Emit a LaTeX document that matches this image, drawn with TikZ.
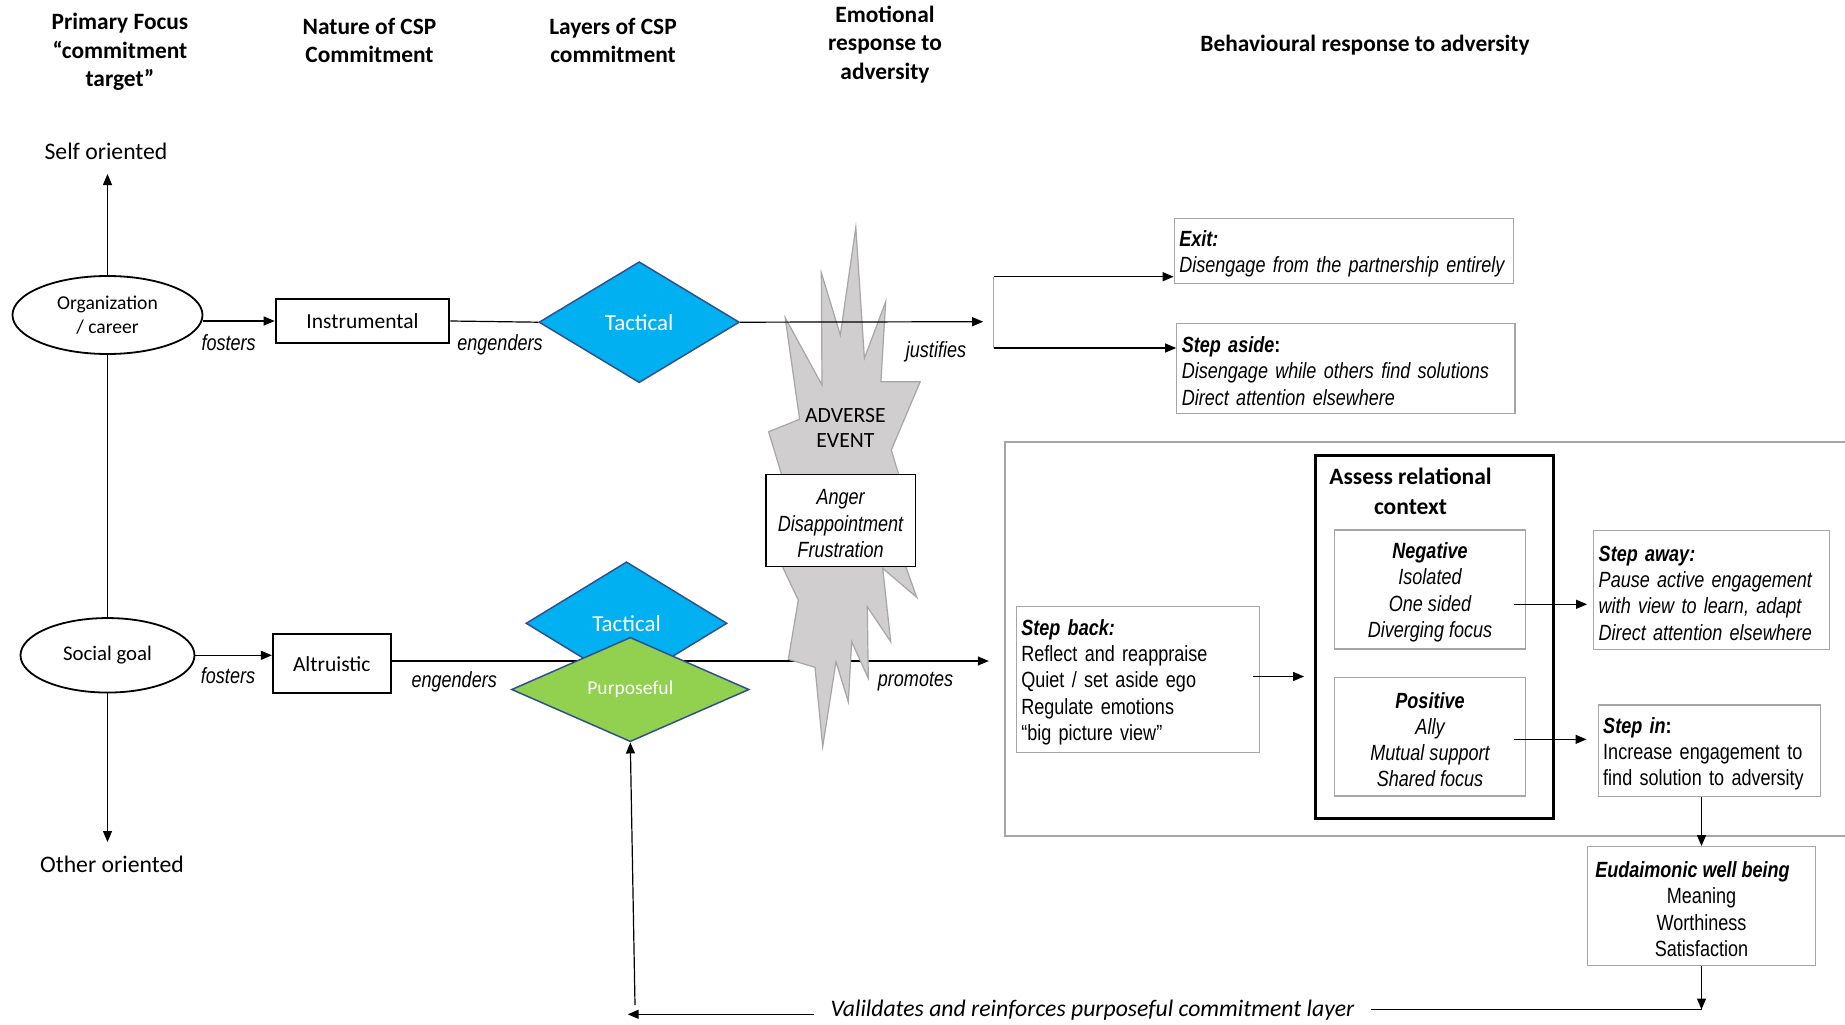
\documentclass[tikz,border=0pt]{standalone}
\usepackage{fontspec}
\usetikzlibrary{shapes.geometric,arrows.meta,calc}
\newfontfamily\calfont{Carlito}
\newfontfamily\narfont{Liberation Sans}[FakeStretch=0.82,WordSpace=0.82]
\newcommand\firstline{\rule{0pt}{21.5pt}}
\protected\def\narspacing{\spaceskip=5pt plus 1pt minus 1pt\relax}
\definecolor{boxgrey}{RGB}{166,166,166}
\definecolor{tacblue}{RGB}{0,176,240}
\definecolor{purgreen}{RGB}{146,208,80}
\definecolor{edgeblue}{RGB}{47,82,143}
\definecolor{burstfill}{RGB}{208,206,206}
\definecolor{burstedge}{RGB}{166,166,166}
\definecolor{linkblue}{RGB}{143,170,220}

\begin{document}
\begin{tikzpicture}[x=1pt,y=-1pt,
  hdr/.style={font=\calfont\bfseries\fontsize{23.4}{28.3}\selectfont, align=center, inner sep=0},
  axislab/.style={font=\calfont\fontsize{23.7}{28}\selectfont, inner sep=0},
  lab/.style={font=\narfont\itshape\fontsize{22}{26.3}\selectfont, inner sep=0},
  body/.style={font=\narfont\fontsize{22}{26.3}\selectfont\narspacing},
  arr/.style={-{Triangle[length=11pt,width=9pt]}, line width=1.2pt},
  conn/.style={line width=1.2pt},
  oval/.style={ellipse, draw, line width=1.8pt, fill=white, inner sep=0, align=center},
  bbox/.style={draw, line width=2pt, fill=white, inner sep=0,
    font=\calfont\fontsize{21.5}{26}\selectfont},
  gem/.style={diamond, draw=edgeblue, line width=1.5pt, inner sep=0, aspect=1.65,
    text=white},
  gbox/.style={draw=boxgrey, line width=1.3pt, fill=white, inner xsep=5pt, inner ysep=0pt,
    body},
  lbox/.style={gbox, align=left},
  cbox/.style={gbox, align=center}]

\useasboundingbox (0,0) rectangle (1845,1025);
\fill[white] (0,0) rectangle (1845,1025);

% column headings
\node[hdr] (hfocus)  at (120,52)    {Primary Focus\\“commitment\\target”};
\node[hdr] (hnature) at (369.5,40.5) {Nature of CSP\\Commitment};
\node[hdr] (hlayers) at (613,40.5)  {Layers of CSP\\commitment};
\node[hdr] (hemot)   at (885,44.5)  {Emotional\\response to\\adversity};
\node[hdr] (hbehav)  at (1365,45.5) {Behavioural response to adversity};

% self / other axis
\node[axislab] (selfo)  at (106,151) {Self oriented};
\node[axislab] (othero) at (112,864) {Other oriented};
\coordinate (selftip)  at (107.5,174);
\coordinate (othertip) at (107.5,842);

\node[oval, minimum width=190pt, minimum height=78pt,
      font=\calfont\fontsize{19.6}{24}\selectfont] (org) at (107.5,315) {Organization\\/ career};
\node[oval, minimum width=174pt, minimum height=74.5pt,
      font=\calfont\fontsize{20.8}{25}\selectfont] (soc) at (107.5,655.3) {Social goal};

\draw[arr] (org.north) -- (selftip);
\draw[conn] (org.south) -- (soc.north);
\draw[arr] (soc.south) -- (othertip);

% nature of commitment
\node[bbox, minimum width=173.6pt, minimum height=44.3pt] (inst) at (362.5,321) {Instrumental};
\node[bbox, minimum width=117.8pt, minimum height=59pt] (alt) at (331.8,663.8) {Altruistic};

\draw[arr] (org.east |- inst.west) -- (inst.west);
\node[lab] (fost1) at (228.6,342.7) {fosters};
\draw[arr] (soc.east) -- (soc.east -| alt.west);
\node[lab] (fost2) at (228,675.5) {fosters};

% lower row: altruistic commitment promotes stepping back
\coordinate (promtip) at (988.8,661);
\draw[arr] (alt.east |- promtip) -- (promtip);
\node[lab] (eng2) at (454.2,681.7) {engenders};
\node[lab] (prom) at (915.5,681.7) {promotes};

\node[gem, fill=tacblue, minimum width=201pt, minimum height=123pt,
      font=\calfont\fontsize{22.9}{26}\selectfont] (tac2) at (626.5,623.3) {Tactical};
\node[gem, fill=purgreen, minimum width=237.6pt, minimum height=104.4pt,
      font=\calfont\fontsize{19.6}{24}\selectfont] (purp) at (630.3,689.5) {Purposeful};

% adverse event burst
\filldraw[fill=burstfill, draw=burstedge, line width=1.2pt, line join=miter]
  (781.7,475) -- (768.6,431.7) -- (799.6,419.3) -- (785.2,317.7) -- (822,385)
  -- (821.3,272.7) -- (840.3,335) -- (855.8,227.3) -- (864.4,358.3) -- (885.7,301.7)
  -- (880.9,381.7) -- (920.2,381.7) -- (891.3,450) -- (898.8,475) -- (906,567.3)
  -- (916.7,597.3) -- (882.7,568.3) -- (890.7,641.7) -- (867.3,606.7) -- (868.3,678.3)
  -- (851.7,641.7) -- (848.3,701.7) -- (836,661.7) -- (822.7,746.7) -- (815,667.3)
  -- (788.3,659.3) -- (798.3,600) -- (782.7,567.3) -- cycle;
\node[font=\calfont\fontsize{21.7}{25}\selectfont, align=center, inner sep=0] (adverse)
  at (845.4,427.5) {ADVERSE\\EVENT};
\node[draw, line width=1.2pt, fill=white, minimum width=149.3pt, minimum height=91.6pt,
      inner sep=0, align=center, font=\narfont\itshape\fontsize{22}{26.3}\selectfont] (emo)
  at (840.6,520.5) {\firstline Anger\\Disappointment\\Frustration};

% upper row: instrumental commitment justifies exit / stepping aside
\node[gem, fill=tacblue, minimum width=200.4pt, minimum height=121pt,
      font=\calfont\fontsize{22.9}{26}\selectfont] (tac1) at (639.2,322.2) {Tactical};
\draw[conn] (inst.east) -- (tac1.west);
\node[lab] (eng1) at (500,345) {engenders};
\coordinate (justip) at (983.2,321.7);
\draw[arr] (tac1.east) -- (justip);
\node[lab] (just) at (936,351.8) {justifies};

\node[lbox, text width=328.9pt, minimum height=65pt] (exit) at (1343.75,250.8)
  {\firstline{\bfseries\itshape Exit:}\\\itshape Disengage from the partnership entirely};
\node[lbox, text width=328.2pt, minimum height=90pt] (aside) at (1345.9,368.3)
  {\firstline{\bfseries\itshape Step aside}\textbf{:}\\\itshape Disengage while others find solutions\\\itshape Direct attention elsewhere};

\coordinate (fork1) at (993.5,276.7);
\coordinate (fork2) at (993.5,348);
\draw[draw=linkblue, line width=1pt] (fork1) -- (fork2);
\draw[arr] (fork1) -- (exit.west |- fork1);
\draw[arr] (fork2) -- (aside.west |- fork2);

% behavioural response panel
\draw[draw=boxgrey, line width=2pt] (1005.2,441.5) rectangle (1860,836.3);

\node[lbox, text width=233pt, minimum height=145.6pt] (stepback) at (1137.8,679.5)
  {\firstline{\bfseries\itshape Step back:}\\Reflect and reappraise\\Quiet / set aside ego\\Regulate emotions\\“big picture view”};

\node[draw, line width=3pt, minimum width=237.4pt, minimum height=363.3pt, inner sep=0]
  (assess) at (1434.3,636.7) {};
\node[font=\calfont\bfseries\fontsize{23.5}{30}\selectfont, align=center, inner sep=0]
  (asstitle) at (1410.5,491.7) {Assess relational\\context};
\node[cbox, minimum width=190.4pt, minimum height=119pt, font=\narfont\itshape\fontsize{22}{26.3}\selectfont\narspacing]
  (neg) at (1430,589.5) {\firstline{\bfseries Negative}\\Isolated\\One sided\\Diverging focus};
\node[cbox, minimum width=190.4pt, minimum height=118.3pt, font=\narfont\itshape\fontsize{22}{26.3}\selectfont\narspacing]
  (pos) at (1430,736.85) {\firstline{\bfseries Positive}\\Ally\\Mutual support\\Shared focus};

\draw[arr] ($(stepback.east)+(-7,-3)$) -- ($(assess.west |- stepback.east)+(-10,-3)$);

\node[lbox, text width=225.7pt, minimum height=118.6pt] (stepaway) at (1711.55,590)
  {\firstline{\bfseries\itshape Step away:}\\\itshape Pause active engagement\\\itshape with view to learn, adapt\\\itshape Direct attention elsewhere};
\node[lbox, text width=212.1pt, minimum height=91.7pt] (stepin) at (1709.25,750.85)
  {\firstline{\bfseries\itshape Step in}\textbf{:}\\Increase engagement to\\find solution to adversity};

\draw[arr] ($(neg.east)+(-12,14.8)$) -- ($(stepaway.west |- neg.east)+(-6,14.8)$);
\draw[arr] ($(pos.east)+(-12,2.5)$) -- ($(stepin.west |- pos.east)+(-11,2.5)$);

\node[cbox, minimum width=228.4pt, minimum height=119pt] (eud) at (1701.5,906.2)
  {\firstline\hspace*{-18pt}{\bfseries\itshape Eudaimonic well being}\\Meaning\\Worthiness\\Satisfaction};
\draw[arr] (eud.north |- stepin.south) -- (eud.north);

% feedback loop to the purposeful layer
\coordinate (eudtip) at (1701.5,1009.5);
\coordinate (loopleft) at (627.7,1014.3);
\coordinate (loopup) at (635,1005);
\node[font=\calfont\itshape\fontsize{23.7}{28}\selectfont, inner xsep=16pt, inner ysep=0]
  (valid) at (1092.5,1010) {Valildates and reinforces purposeful commitment layer};
\draw[arr] (eud.south) -- (eudtip);
\draw[conn] (eudtip) -- (valid.east |- eudtip);
\draw[arr] (valid.west |- loopleft) -- (loopleft);
\draw[arr] (loopup) -- (purp.south);

\end{tikzpicture}
\end{document}
